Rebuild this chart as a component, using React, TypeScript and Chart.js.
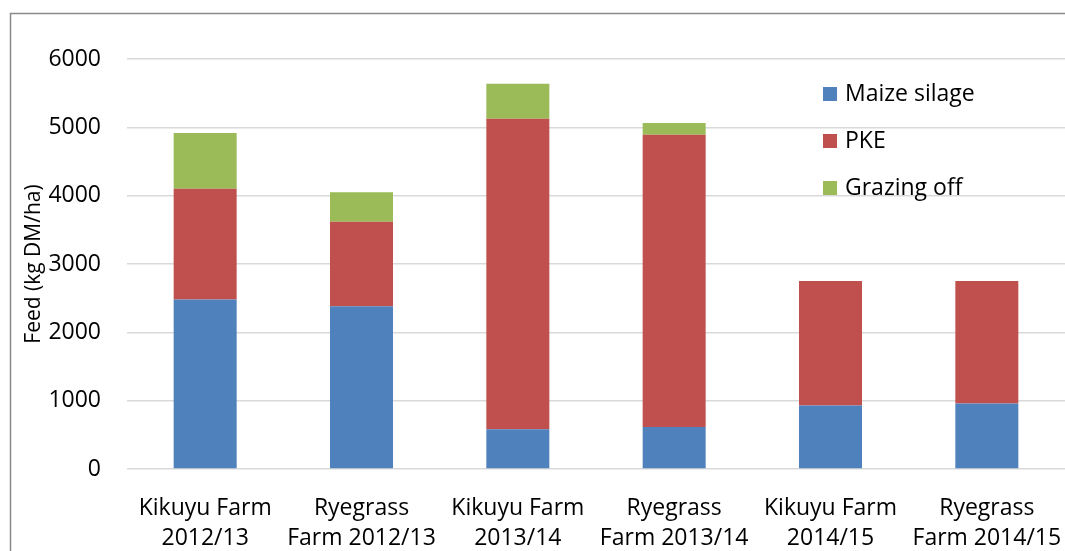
import React, { useEffect, useRef } from "react";
import { Chart, registerables } from "chart.js";

Chart.register(...registerables);

const categories: string[][] = [
  ["Kikuyu Farm", "2012/13"],
  ["Ryegrass", "Farm 2012/13"],
  ["Kikuyu Farm", "2013/14"],
  ["Ryegrass", "Farm 2013/14"],
  ["Kikuyu Farm", "2014/15"],
  ["Ryegrass", "Farm 2014/15"],
];

const maizeSilage = [2480, 2380, 580, 615, 930, 960];
const pke = [1620, 1240, 4547, 4277, 1821, 1791];
const grazingOff = [817, 429, 512, 171, 0, 0];

const seriesNames = ["Maize silage", "PKE", "Grazing off"];
const seriesColors = ["#4F81BD", "#C0504D", "#9BBB59"];

const yTicks = [0, 1000, 2000, 3000, 4000, 5000, 6000];
const yTitle = "Feed (kg DM/ha)";

const FONT = "'Open Sans', 'Liberation Sans', sans-serif";

const framePlugin = {
  id: "frame",
  beforeDraw(chart: any) {
    const ctx = chart.ctx;
    ctx.save();
    ctx.fillStyle = "#ffffff";
    ctx.fillRect(0, 0, chart.width, chart.height);
    ctx.strokeStyle = "#8a8a8a";
    ctx.lineWidth = 1.5;
    ctx.beginPath();
    ctx.moveTo(10.5, chart.height);
    ctx.lineTo(10.5, 13.5);
    ctx.lineTo(chart.width, 13.5);
    ctx.stroke();
    ctx.restore();
  },
};

const innerLegendPlugin = {
  id: "innerLegend",
  afterDraw(chart: any) {
    const ctx = chart.ctx;
    const x = 823;
    const y0 = 94;
    const step = 47;
    ctx.save();
    ctx.font = `23px ${FONT}`;
    ctx.textBaseline = "middle";
    ctx.textAlign = "left";
    chart.data.datasets.forEach((ds: any, i: number) => {
      const cy = y0 + i * step;
      ctx.fillStyle = ds.backgroundColor;
      ctx.fillRect(x, cy - 7, 14, 14);
      ctx.fillStyle = "#000000";
      ctx.fillText(ds.label, x + 22, cy);
    });
    ctx.restore();
  },
};

export default function App() {
  const ref = useRef<HTMLCanvasElement | null>(null);

  useEffect(() => {
    if (!ref.current) return;
    const data = [maizeSilage, pke, grazingOff];
    const chart = new Chart(ref.current, {
      type: "bar",
      data: {
        labels: categories,
        datasets: seriesNames.map((name, i) => ({
          label: name,
          data: data[i],
          backgroundColor: seriesColors[i],
          borderWidth: 0,
          barPercentage: 0.403,
          categoryPercentage: 1,
        })),
      },
      options: {
        animation: false,
        responsive: false,
        maintainAspectRatio: false,
        layout: { padding: { top: 59, left: 0, right: 0, bottom: 0 } },
        plugins: {
          legend: { display: false },
          tooltip: { enabled: false },
        },
        scales: {
          x: {
            stacked: true,
            grid: { display: false, drawTicks: false },
            border: { display: false },
            ticks: {
              autoSkip: false,
              maxRotation: 0,
              minRotation: 0,
              color: "#000000",
              padding: 25,
              font: { family: FONT, size: 23, lineHeight: 1.3 },
            },
            afterFit: (scale: any) => {
              scale.height = 82;
              scale.paddingLeft = 0;
              scale.paddingRight = 0;
            },
          },
          y: {
            stacked: true,
            min: 0,
            max: 6000,
            afterBuildTicks: (scale: any) => {
              scale.ticks = yTicks.map((v) => ({ value: v }));
            },
            grid: { color: "#d9d9d9", lineWidth: 1.5, drawTicks: false },
            border: { display: false },
            ticks: {
              color: "#000000",
              padding: 26,
              font: { family: FONT, size: 23 },
              callback: (v: any) => String(v),
            },
            title: {
              display: true,
              text: yTitle,
              color: "#000000",
              padding: { top: 21, bottom: 0 },
              font: { family: FONT, size: 21, lineHeight: 1.2 },
            },
            afterFit: (scale: any) => {
              scale.width = 127;
            },
          },
        },
      },
      plugins: [framePlugin, innerLegendPlugin],
    });
    return () => chart.destroy();
  }, []);

  return (
    <div style={{ position: "fixed", left: 0, top: 0, width: 1065, height: 551 }}>
      <canvas ref={ref} width={1065} height={551} style={{ display: "block" }} />
    </div>
  );
}
